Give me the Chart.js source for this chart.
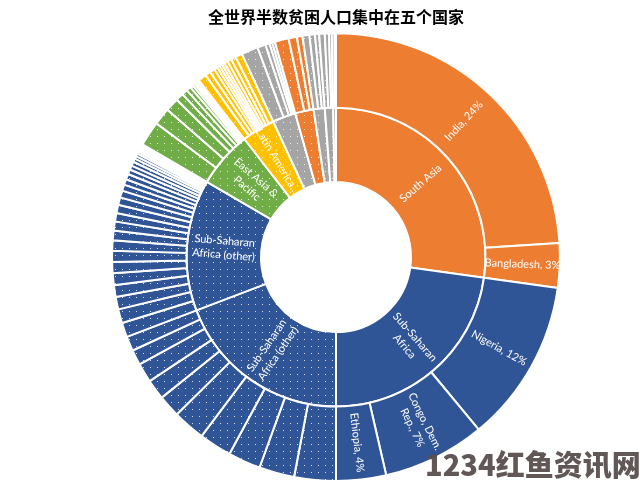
<!DOCTYPE html>
<html>
<head>
<meta charset="utf-8">
<script src="https://cdn.jsdelivr.net/npm/chart.js@4.4.0/dist/chart.umd.min.js"></script>
<style>
  html, body { margin: 0; padding: 0; background: #fff; }
  #wrap { position: relative; width: 640px; height: 488px; }
  #mark { position: absolute; left: 425px; top: 449px; font: 900 29px "Noto Sans CJK SC"; line-height: 29px; color: rgba(88,78,78,0.95); white-space: nowrap; }
</style>
</head>
<body>
<div id="wrap">
  <canvas id="povertyChart" width="640" height="488"></canvas>
  <div id="mark">1234红鱼资讯网</div>
</div>
<script>
// inner ring: regions (share of world poor, %)
const regionValues = [27.2, 22.8, 19.2, 14.2, 6.1, 3.6, 2.5, 2.0, 1.2, 0.9, 0.3];
const regionText = ['South Asia', 'Sub-Saharan\nAfrica', 'Sub-Saharan\nAfrica (other)', 'Sub-Saharan\nAfrica (other)',
  'East Asia &\nPacific', 'Latin America...', '', '', '', '', ''];

// outer ring: countries, grouped by region (same order as above)
const southAsia = [24.0, 3.2];
const southAsiaText = ['India, 24%', 'Bangladesh, 3%'];
const ssaMain = [11.8, 7.4, 3.6];
const ssaMainText = ['Nigeria, 12%', 'Congo, Dem.\nRep., 7%', 'Ethiopia, 4%'];
const ssaOther1 = [3.0, 2.55, 2.35, 2.35, 2.35, 1.6, 1.45, 1.4, 1.1, 1.05];
const ssaOther2 = [1.05, 1.0, 0.9, 0.85, 0.85, 0.8, 0.8, 0.75, 0.7, 0.65, 0.6, 0.6, 0.55, 0.5, 0.45, 0.4,
  0.4, 0.35, 0.3, 0.3, 0.25, 0.2, 0.2, 0.15, 0.15, 0.1, 0.1, 0.1, 0.05, 0.05, 0.05];
const eastAsia = [1.79, 1.25, 0.97, 0.56, 0.42, 0.33, 0.22, 0.17, 0.11, 0.08, 0.06, 0.06, 0.04, 0.04];
const latinAm = [0.6, 0.4, 0.35, 0.25, 0.2, 0.2, 0.2, 0.25, 0.3, 0.35, 0.5];
const grayA = [1.2, 0.6, 0.3, 0.2, 0.2];
const orangeB = [1.0, 0.6, 0.4];
const grayC = [0.5, 0.4, 0.3];
const grayD = [0.4, 0.3, 0.2];
const grayE = [0.2, 0.1];

const countryGroups = [southAsia, ssaMain, ssaOther1, ssaOther2, eastAsia, latinAm, grayA, orangeB, grayC, grayD, grayE];
const groupText = [southAsiaText, ssaMainText];

// styles per region
const ORANGE = '#ED7D31', BLUE = '#2F5597', GREEN = '#70AD47', YELLOW = '#FFC000', GRAY = '#A5A5A5';
const regionColors = [ORANGE, BLUE, BLUE, BLUE, GREEN, YELLOW, GRAY, ORANGE, GRAY, GRAY, GRAY];
const regionDotted = [false, false, true, true, true, true, true, true, true, true, true];

function dotted(color) {
  const c = document.createElement('canvas');
  c.width = 7; c.height = 7;
  const g = c.getContext('2d');
  g.fillStyle = color;
  g.fillRect(0, 0, 7, 7);
  g.fillStyle = 'rgba(255,255,255,0.8)';
  g.fillRect(3, 3, 1, 1);
  return g.createPattern(c, 'repeat');
}

const regionFill = regionColors.map((c, i) => regionDotted[i] ? dotted(c) : c);

let countryValues = [], countryFill = [], countryText = [];
countryGroups.forEach((grp, gi) => {
  grp.forEach((v, k) => {
    countryValues.push(v);
    countryFill.push(regionFill[gi]);
    countryText.push(groupText[gi] ? groupText[gi][k] : '');
  });
});

// draws the white labels along the radius of each slice
const sliceLabels = {
  id: 'sliceLabels',
  afterDatasetsDraw(chart) {
    const ctx = chart.ctx;
    chart.data.datasets.forEach((ds, di) => {
      const meta = chart.getDatasetMeta(di);
      meta.data.forEach((arc, i) => {
        const text = ds.sliceText[i];
        if (!text) return;
        const p = arc.getProps(['x', 'y', 'startAngle', 'endAngle', 'innerRadius', 'outerRadius'], true);
        const mid = (p.startAngle + p.endAngle) / 2;
        const r = (p.innerRadius + p.outerRadius) / 2;
        let rot = mid;
        if (Math.cos(mid) < -0.01) rot += Math.PI;
        ctx.save();
        ctx.translate(p.x + r * Math.cos(mid), p.y + r * Math.sin(mid));
        ctx.rotate(rot);
        ctx.fillStyle = '#fff';
        ctx.font = '11px Lato';
        ctx.textAlign = 'center';
        ctx.textBaseline = 'middle';
        const lines = text.split('\n');
        lines.forEach((ln, k) => ctx.fillText(ln, 0, (k - (lines.length - 1) / 2) * 14));
        ctx.restore();
      });
    });
  }
};

const ctx = document.getElementById('povertyChart').getContext('2d');
new Chart(ctx, {
  type: 'doughnut',
  data: {
    datasets: [
      {
        data: countryValues,
        backgroundColor: countryFill,
        borderColor: '#fff',
        borderWidth: 2,
        sliceText: countryText
      },
      {
        data: regionValues,
        backgroundColor: regionFill,
        borderColor: '#fff',
        borderWidth: 2,
        sliceText: regionText
      }
    ]
  },
  options: {
    responsive: false,
    animation: false,
    events: [],
    cutout: '33.5%',
    layout: { padding: { left: 32, bottom: 6 } },
    plugins: {
      legend: { display: false },
      tooltip: { enabled: false },
      title: {
        display: true,
        text: '全世界半数贫困人口集中在五个国家',
        color: '#000',
        font: { family: 'Noto Sans CJK SC', size: 16, weight: 'bold' },
        padding: { top: 7, bottom: 6 }
      }
    }
  },
  plugins: [sliceLabels]
});
</script>
</body>
</html>
